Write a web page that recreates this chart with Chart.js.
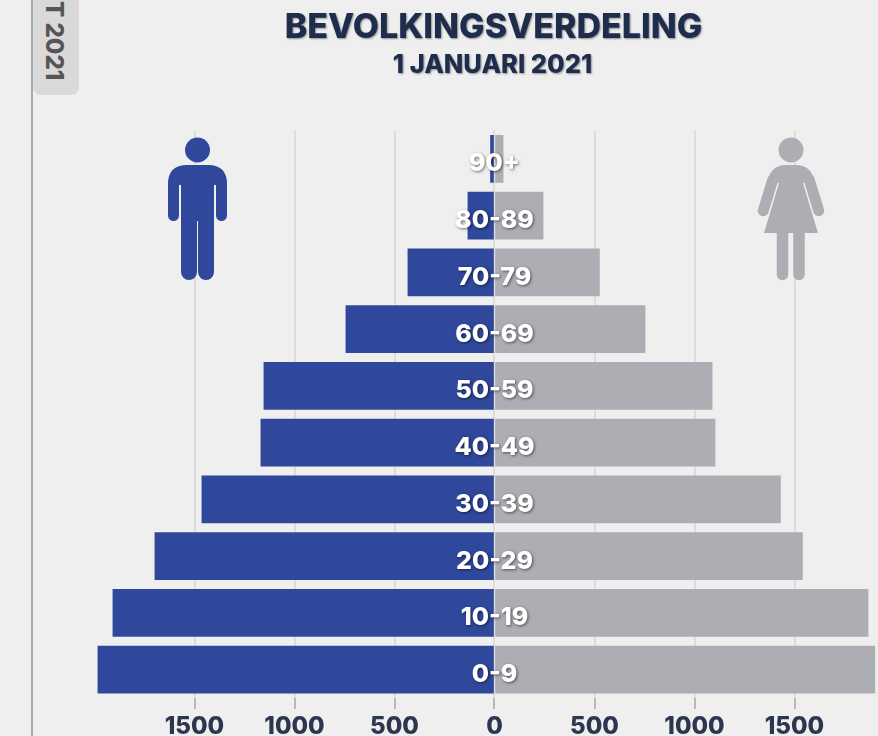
<!DOCTYPE html>
<html lang="nl">
<head>
<meta charset="utf-8">
<title>Bevolkingsverdeling</title>
<script src="https://cdn.jsdelivr.net/npm/chart.js@4"></script>
<style>
  html,body{margin:0;padding:0;background:#efefef;overflow:hidden;}
  #wrap{position:relative;width:878px;height:736px;overflow:hidden;background:#efefef;}
  canvas{position:absolute;left:0;top:0;}
  #rule{position:absolute;left:31px;top:0;width:2px;height:736px;background:#a9a9a9;}
  #tag{position:absolute;left:33px;top:0;width:46px;height:95px;background:#d9d9d9;border-radius:0 0 8px 8px;overflow:hidden;}
  #tag span{position:absolute;left:9px;bottom:15px;writing-mode:vertical-rl;font:800 24px Inter,sans-serif;color:#555;white-space:nowrap;line-height:24px;}
  svg{position:absolute;left:0;top:0;pointer-events:none;}
</style>
</head>
<body>
<div id="wrap">
  <canvas id="c" width="878" height="736"></canvas>
  <div id="rule"></div>
  <div id="tag"><span>T 2021</span></div>
  <svg width="878" height="736" viewBox="0 0 878 736">
    <g fill="#30489c">
      <circle cx="197.5" cy="150" r="12.5"/>
      <path d="M168 184 Q168 165 187 165 H208 Q227 165 227 184 V215.5 a5.5 5.5 0 0 1 -11 0 V185 H214 V272 a8 8 0 0 1 -16 0 V221 H197 V272 a8 8 0 0 1 -16 0 V185 H179 V215.5 a5.5 5.5 0 0 1 -11 0 Z"/>
    </g>
    <g fill="#adaeb3" stroke="none">
      <circle cx="791" cy="150" r="12.5"/>
      <path d="M767.5 181 Q771 165 786 165 H796 Q811 165 814.5 181 L803 183 L818 233 H764 L779 183 Z"/>
      <g stroke="#adaeb3" stroke-linecap="round" fill="none">
        <path stroke-width="11" d="M772.7 180 L763.3 210.7 M809.3 180 L818.7 210.7"/>
        <path stroke-width="11.5" d="M782.5 233 V274.5 M799 233 V274.5"/>
      </g>
    </g>
  </svg>
</div>
<script>
const categories = ['90+','80-89','70-79','60-69','50-59','40-49','30-39','20-29','10-19','0-9'];
const men   = [-20,-133,-433,-743,-1153,-1168,-1463,-1698,-1908,-1983];
const women = [43,243,525,753,1088,1103,1430,1540,1868,1902];
const axisTicks = [-1500,-1000,-500,0,500,1000,1500];
const titleText = 'BEVOLKINGSVERDELING';
const subtitleText = '1 JANUARI 2021';

const overlay = {
  id:'overlay',
  afterDatasetsDraw(chart){
    const {ctx, scales:{x,y}} = chart;
    const cx = x.getPixelForValue(0);
    ctx.save();
    ctx.textAlign='center';
    ctx.textBaseline='middle';
    ctx.font='800 25px Inter, sans-serif';
    ctx.fillStyle='#ffffff';
    ctx.shadowColor='rgba(0,0,0,0.55)';
    ctx.shadowBlur=3;
    ctx.shadowOffsetX=1;
    ctx.shadowOffsetY=1;
    categories.forEach((c,i)=>ctx.fillText(c,cx,y.getPixelForValue(i)+5));
    ctx.fillStyle='#1f2d4d';
    ctx.shadowColor='rgba(0,0,0,0.4)';
    ctx.shadowBlur=2;
    ctx.shadowOffsetX=1;
    ctx.shadowOffsetY=1;
    ctx.font='800 34px Inter, sans-serif';
    ctx.fillText(titleText,cx-1,28);
    ctx.font='800 25.5px Inter, sans-serif';
    ctx.fillText(subtitleText,cx-2,65.5);
    ctx.restore();
  }
};

new Chart(document.getElementById('c'),{
  type:'bar',
  data:{
    labels:categories,
    datasets:[
      {label:'Mannen',data:men,backgroundColor:'#30489c',borderWidth:0,barThickness:47,stack:'s'},
      {label:'Vrouwen',data:women,backgroundColor:'#adaeb3',borderWidth:0,barThickness:47,stack:'s'}
    ]
  },
  options:{
    indexAxis:'y',
    responsive:false,
    animation:false,
    layout:{padding:{left:34.5,right:0,top:130.5,bottom:0}},
    plugins:{legend:{display:false},title:{display:false},tooltip:{enabled:false}},
    scales:{
      y:{display:false,stacked:true},
      x:{
        stacked:true,
        min:-2300,
        max:1917.5,
        afterBuildTicks(a){a.ticks=axisTicks.map(v=>({value:v}));},
        afterFit(a){a.height=38;},
        border:{display:false},
        grid:{color:'#dcdcdc',lineWidth:2,tickColor:'#a6a6a6',tickWidth:1.5,tickLength:11},
        ticks:{
          autoSkip:false,
          maxRotation:0,
          padding:3,
          color:'#2d3650',
          font:{family:'Inter, sans-serif',size:24,weight:'800'},
          callback:v=>String(Math.abs(v))
        }
      }
    }
  },
  plugins:[overlay]
});
</script>
</body>
</html>
